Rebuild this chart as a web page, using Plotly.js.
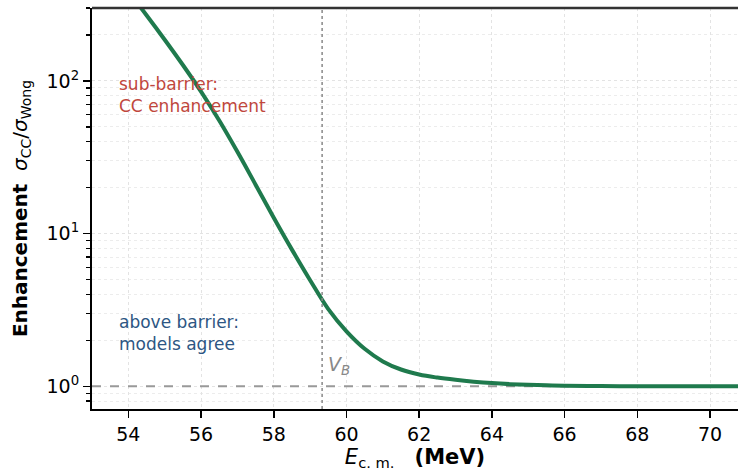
<!DOCTYPE html>
<html>
<head>
<meta charset="utf-8">
<script src="https://cdn.plot.ly/plotly-3.0.1.min.js"></script>
<style>html,body{margin:0;padding:0;background:#fff;}#chart{width:738px;height:471px;}</style>
</head>
<body>
<div id="chart"></div>
<script>
// Centre-of-mass energy (MeV)
const energy = [54.0, 54.5, 55.0, 55.5, 56.0, 56.5, 57.0, 57.5, 58.0, 58.5, 59.0, 59.5, 60.0, 60.5, 61.0, 61.5, 62.0, 62.5, 63.0, 63.5, 64.0, 64.5, 65.0, 65.5, 66.0, 67.0, 68.0, 69.0, 70.0, 71.0];
// Enhancement sigma_CC / sigma_Wong
const enhancement = [385, 269, 186, 127, 85.1, 55.0, 34.3, 20.9, 12.7, 7.85, 4.95, 3.20, 2.29, 1.76, 1.455, 1.288, 1.194, 1.140, 1.102, 1.072, 1.049, 1.033, 1.0216, 1.014, 1.009, 1.0035, 1.0012, 1.0005, 1.0, 1.0];
const barrierEnergy = 59.33;
const xTicks = [54, 56, 58, 60, 62, 64, 66, 68, 70];
const yTicks = [1, 10, 100];
const yTickLabels = ["10<sup>0</sup>", "10<sup>1</sup>", "10<sup>2</sup>"];
const yMinor = [0.8, 0.9, 2, 3, 4, 5, 6, 7, 8, 9, 20, 30, 40, 50, 60, 70, 80, 90, 200, 300];
const subBarrierText = "sub-barrier:<br>CC enhancement";
const aboveBarrierText = "above barrier:<br>models agree";

const font = "DejaVu Sans, sans-serif";
const xRange = [53, 70.77];
const yRange = [Math.log10(0.71), Math.log10(300)];

const traces = [
  {
    x: xRange, y: [1, 1], mode: "lines",
    line: {color: "#999999", width: 2, dash: "dash"},
    hoverinfo: "skip", showlegend: false
  },
  {
    x: energy, y: enhancement, mode: "lines",
    line: {color: "#1f7a4d", width: 4, shape: "spline", smoothing: 1},
    showlegend: false
  }
];

const layout = {
  width: 738, height: 471,
  margin: {l: 92, r: 0, t: 8, b: 62},
  paper_bgcolor: "#fff", plot_bgcolor: "#fff",
  font: {family: font, color: "#000", size: 19},
  xaxis: {
    range: xRange,
    tickvals: xTicks,
    ticks: "outside", ticklen: 7, tickwidth: 1.5, tickcolor: "#000",
    showline: true, linecolor: "#000", linewidth: 2,
    showgrid: true, gridcolor: "#e3e3e3", griddash: "dot", gridwidth: 1,
    zeroline: false,
    tickfont: {size: 19},
    title: {text: "<i>E</i><sub>c. m.</sub>   <b>(MeV)</b>", font: {size: 21}, standoff: 5}
  },
  yaxis: {
    type: "log",
    range: yRange,
    tickvals: yTicks, ticktext: yTickLabels,
    ticks: "outside", ticklen: 7, tickwidth: 1.5, tickcolor: "#000",
    showline: true, linecolor: "#000", linewidth: 2,
    showgrid: true, gridcolor: "#e3e3e3", griddash: "dot", gridwidth: 1,
    zeroline: false,
    tickfont: {size: 19},
    minor: {tickvals: yMinor, ticks: "outside", ticklen: 4, tickcolor: "#000", showgrid: true, gridcolor: "#ececec", griddash: "dot"},
    title: {text: "<b>Enhancement</b>  <i>σ</i><sub>CC</sub>/<i>σ</i><sub>Wong</sub>", font: {size: 20}, standoff: 14}
  },
  shapes: [
    {type: "line", xref: "paper", yref: "paper", x0: 0, x1: 1, y0: 1, y1: 1, line: {color: "#333", width: 2.5}},
    {type: "line", xref: "x", yref: "paper", x0: barrierEnergy, x1: barrierEnergy, y0: 0, y1: 1, line: {color: "#888", width: 1.5, dash: "dot"}}
  ],
  annotations: [
    {xref: "x", yref: "y", x: 53.7, y: Math.log10(80.4), xanchor: "left", yanchor: "middle", align: "left", showarrow: false,
     text: subBarrierText, font: {size: 17, color: "#c0473d"}},
    {xref: "x", yref: "y", x: 53.7, y: Math.log10(2.22), xanchor: "left", yanchor: "middle", align: "left", showarrow: false,
     text: aboveBarrierText, font: {size: 17, color: "#2d5683"}},
    {xref: "x", yref: "y", x: barrierEnergy + 0.1, y: Math.log10(1.36), xanchor: "left", yanchor: "middle", showarrow: false,
     text: "<i>V</i><sub><i>B</i></sub>", font: {size: 19, color: "#888"}}
  ]
};

Plotly.newPlot("chart", traces, layout, {staticPlot: true, displayModeBar: false});
</script>
</body>
</html>
